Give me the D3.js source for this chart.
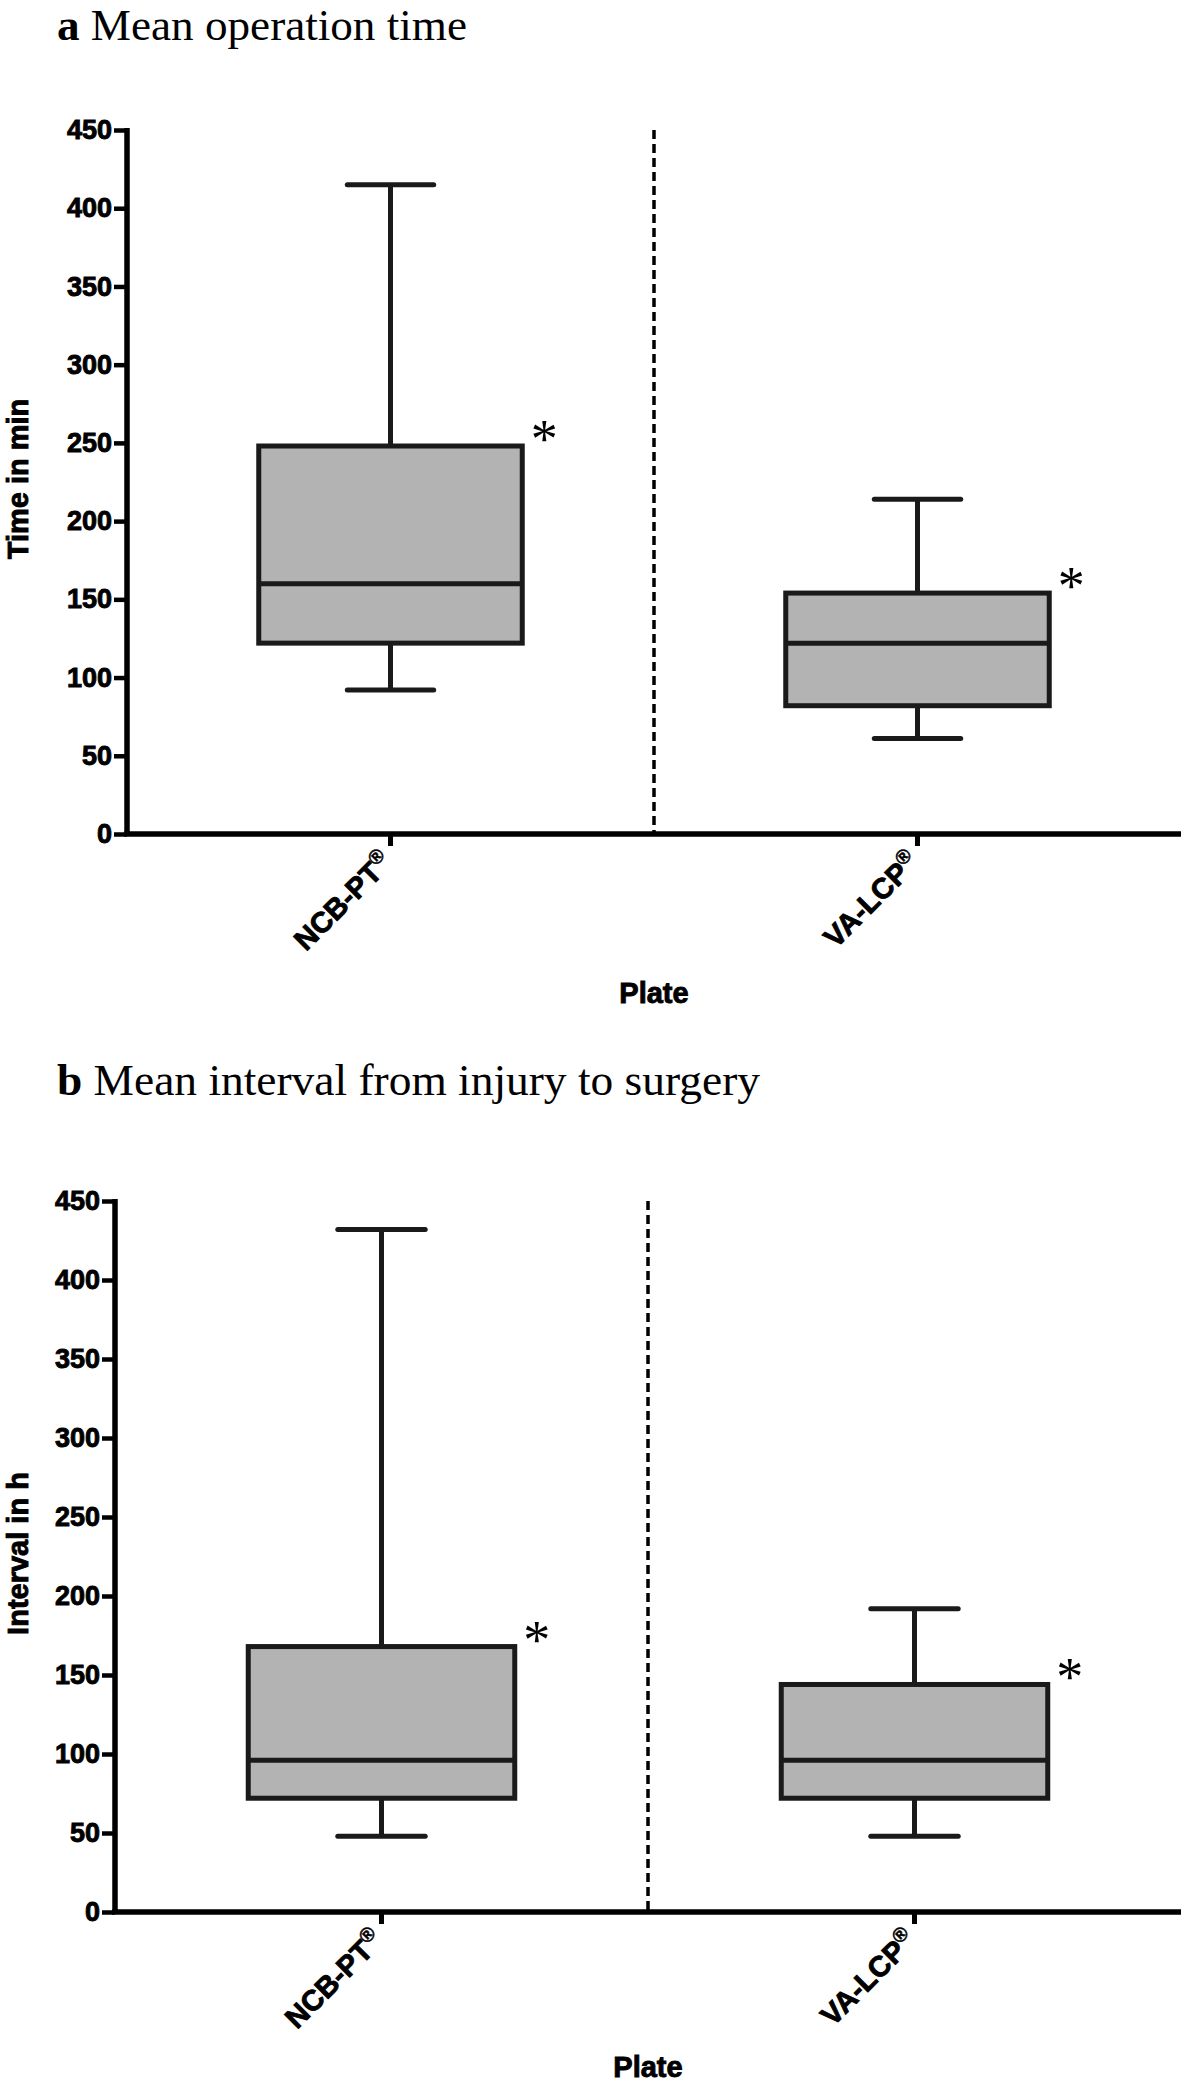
<!DOCTYPE html>
<html>
<head>
<meta charset="utf-8">
<script src="https://cdn.jsdelivr.net/npm/d3@7/dist/d3.min.js"></script>
<style>
  html, body { margin: 0; padding: 0; background: #fff; }
  svg { display: block; }
</style>
</head>
<body>
<script>
// ---- Data ----
const categories = ["NCB-PT", "VA-LCP"];
const yTicks = [0, 50, 100, 150, 200, 250, 300, 350, 400, 450];

// Panel a: Mean operation time (min)
const opMin    = [92, 61];
const opQ1     = [122, 82];
const opMedian = [160, 122];
const opQ3     = [248, 154];
const opMax    = [415, 214];

// Panel b: Mean interval from injury to surgery (h)
const intMin    = [48, 48];
const intQ1     = [72, 72];
const intMedian = [96, 96];
const intQ3     = [168, 144];
const intMax    = [432, 192];

const W = 1181, H = 2085;
const svg = d3.select("body").append("svg").attr("width", W).attr("height", H);

const SANS = "'Liberation Sans', Arial, sans-serif";
const SERIF = "'Liberation Serif', 'Times New Roman', serif";
const STROKE = "#1a1a1a";
const LW = 5;

function heavy(sel) {
  return sel.attr("font-family", SANS).attr("font-weight", "bold").attr("fill", "#000")
    .attr("stroke", "#000").attr("stroke-width", 0.9).attr("paint-order", "stroke");
}

function drawPanel(o) {
  const g = svg.append("g");
  const x = d3.scaleBand().domain(categories).range([o.left, W]).paddingInner(0).paddingOuter(0);
  const y = d3.scaleLinear().domain([0, 450]).range([o.bottom, o.top]);

  // title
  const t = g.append("text")
    .attr("x", 57).attr("y", o.titleY)
    .attr("font-family", SERIF).attr("font-size", 44).attr("fill", "#000")
    .attr("textLength", o.titleW).attr("lengthAdjust", "spacingAndGlyphs");
  t.append("tspan").attr("font-weight", "bold").text(o.letter);
  t.append("tspan").text(" " + o.title);

  // divider dashed line
  g.append("line")
    .attr("x1", x(categories[1])).attr("x2", x(categories[1]))
    .attr("y1", y(450)).attr("y2", o.bottom)
    .attr("stroke", "#000").attr("stroke-width", 3.5)
    .attr("stroke-dasharray", "9,5");

  // y axis
  const ya = g.append("g").attr("transform", `translate(${o.left},0)`)
    .call(d3.axisLeft(y).tickValues(yTicks).tickSize(13).tickPadding(2).tickSizeOuter(0));
  ya.select(".domain").attr("stroke", "#000").attr("stroke-width", 5.5)
    .attr("d", `M0,${y(450) - 2}V${o.bottom}`);
  ya.selectAll(".tick line").attr("stroke", "#000").attr("stroke-width", 4.5);
  heavy(ya.selectAll(".tick text")).attr("font-size", 27);

  // x axis
  const xa = g.append("g").attr("transform", `translate(0,${o.bottom})`)
    .call(d3.axisBottom(x).tickSize(12).tickSizeOuter(0).tickFormat(""));
  xa.select(".domain").attr("stroke", "#000").attr("stroke-width", 5.5)
    .attr("d", `M${o.left - 3},0H${W}`);
  xa.selectAll(".tick line").attr("stroke", "#000").attr("stroke-width", 5);

  // x labels rotated
  categories.forEach(c => {
    const cx = x(c) + x.bandwidth() / 2;
    const lt = heavy(g.append("text")
      .attr("transform", `translate(${cx + 3.5},${o.bottom + 30}) rotate(-45)`)
      .attr("text-anchor", "end").attr("font-size", 29));
    lt.append("tspan").text(c);
    lt.append("tspan").attr("font-size", 20).attr("stroke-width", 0.5).attr("dy", -11).text("®");
  });

  // x title
  heavy(g.append("text").attr("x", x(categories[1])).attr("y", o.bottom + o.plateDy)
    .attr("text-anchor", "middle").attr("font-size", 29))
    .text("Plate");

  // y title
  heavy(g.append("text")
    .attr("transform", `translate(${o.yTitleX},${(o.top + o.bottom) / 2 - 3}) rotate(-90)`)
    .attr("text-anchor", "middle").attr("font-size", 29))
    .text(o.yTitle);

  // boxes
  const bw = x.bandwidth() * 0.5;
  const cap = x.bandwidth() * 0.164;
  categories.forEach((c, i) => {
    const cx = x(c) + x.bandwidth() / 2;
    const bg = g.append("g");
    bg.append("line").attr("x1", cx).attr("x2", cx).attr("y1", y(o.max[i])).attr("y2", y(o.q3[i]))
      .attr("stroke", STROKE).attr("stroke-width", LW);
    bg.append("line").attr("x1", cx).attr("x2", cx).attr("y1", y(o.q1[i])).attr("y2", y(o.min[i]))
      .attr("stroke", STROKE).attr("stroke-width", LW);
    [o.max[i], o.min[i]].forEach(v => {
      bg.append("line").attr("x1", cx - cap / 2).attr("x2", cx + cap / 2).attr("y1", y(v)).attr("y2", y(v))
        .attr("stroke", STROKE).attr("stroke-width", LW).attr("stroke-linecap", "round");
    });
    bg.append("rect").attr("x", cx - bw / 2).attr("width", bw)
      .attr("y", y(o.q3[i])).attr("height", y(o.q1[i]) - y(o.q3[i]))
      .attr("fill", "#b3b3b3").attr("stroke", STROKE).attr("stroke-width", LW);
    bg.append("line").attr("x1", cx - bw / 2).attr("x2", cx + bw / 2)
      .attr("y1", y(o.median[i])).attr("y2", y(o.median[i]))
      .attr("stroke", STROKE).attr("stroke-width", LW);
    // asterisk
    bg.append("text").attr("x", cx + bw / 2 + 22).attr("y", y(o.q3[i]) - 13 + 24)
      .attr("text-anchor", "middle")
      .attr("font-family", SERIF).attr("font-size", 54).attr("fill", "#000")
      .text("*");
  });
}

drawPanel({
  letter: "a", title: "Mean operation time", titleY: 40, titleW: 410,
  left: 127, top: 130, bottom: 834, yTitle: "Time in min", yTitleX: 28, plateDy: 169,
  min: opMin, q1: opQ1, median: opMedian, q3: opQ3, max: opMax
});
drawPanel({
  letter: "b", title: "Mean interval from injury to surgery", titleY: 1095, titleW: 703,
  left: 115, top: 1201, bottom: 1912, yTitle: "Interval in h", yTitleX: 28, plateDy: 165,
  min: intMin, q1: intQ1, median: intMedian, q3: intQ3, max: intMax
});
</script>
</body>
</html>
